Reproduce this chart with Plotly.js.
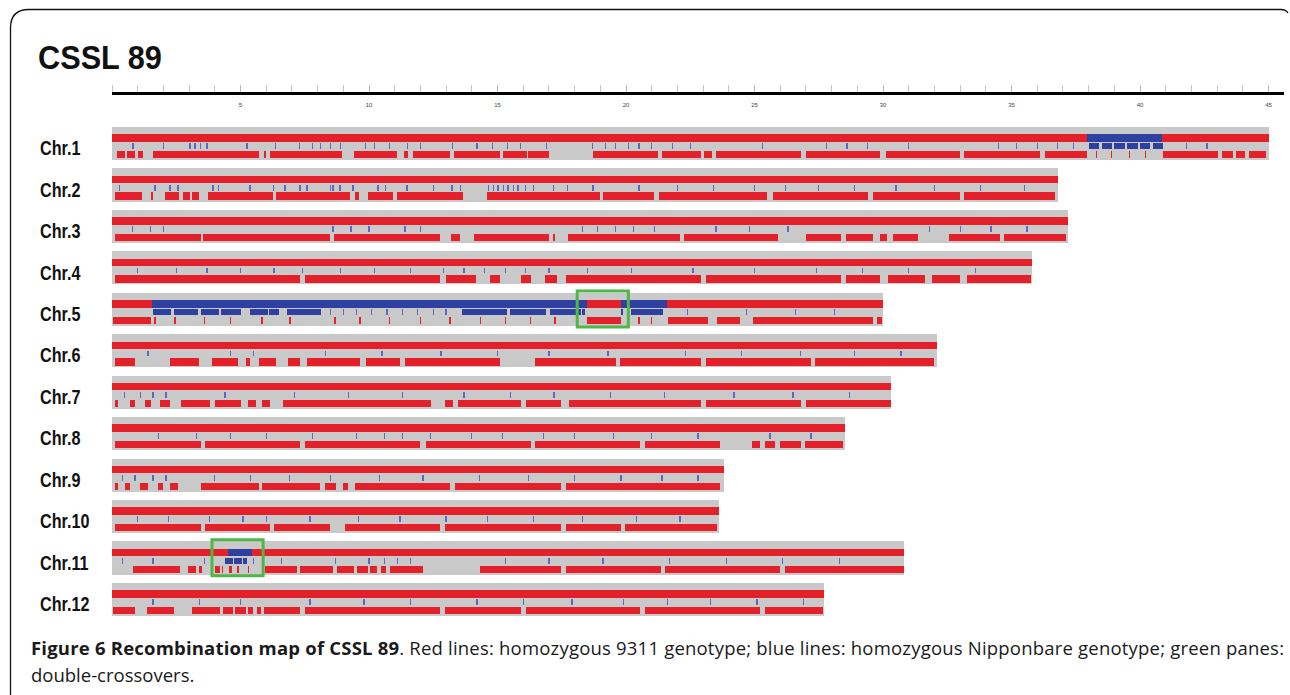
<!DOCTYPE html>
<html>
<head>
<meta charset="utf-8">
<script src="https://cdn.plot.ly/plotly-3.0.1.min.js"></script>
<style>html,body{margin:0;padding:0;background:#fff;}#chart{width:1290px;height:695px;}</style>
</head>
<body>
<div id="chart"></div>
<script>
// ---------------- DATA (Mb) ----------------
const chromNames = ['Chr.1','Chr.2','Chr.3','Chr.4','Chr.5','Chr.6','Chr.7','Chr.8','Chr.9','Chr.10','Chr.11','Chr.12'];
const chromLengths = [45.0, 36.8, 37.2, 35.8, 30.0, 32.1, 30.3, 28.5, 23.8, 23.6, 30.8, 27.7];

// genotype blocks (top bar)
const topRed = [
  [[0,37.95],[40.85,45.0]], [[0,36.8]], [[0,37.2]], [[0,35.8]],
  [[0,1.55],[18.5,19.8],[21.6,30.0]], [[0,32.1]], [[0,30.3]], [[0,28.5]],
  [[0,23.8]], [[0,23.6]], [[0,4.52],[5.45,30.8]], [[0,27.7]]
];
const topBlue = [
  [[37.95,40.85]], [], [], [], [[1.55,18.5],[19.8,21.6]], [], [], [], [], [], [[4.52,5.45]], []
];

// marker track: 9311 (red) marker blocks
const markerRed = [
  [[0.2,0.5],[0.6,0.9],[1.0,1.2],[1.6,5.7],[5.9,6.0],[6.15,8.95],[9.4,11.1],[11.35,11.5],[11.7,13.15],[13.3,15.1],[15.2,16.15],[16.2,17.0],[18.7,21.25],[21.4,22.9],[23.05,23.35],[23.5,26.8],[27.0,29.9],[30.1,33.0],[33.15,36.1],[36.3,37.95],[40.9,43.05],[43.2,43.6],[43.75,44.1],[44.25,44.9]],
  [[0.1,1.15],[1.5,1.6],[2.05,2.6],[2.75,3.05],[3.1,3.4],[3.75,6.25],[6.4,9.25],[9.45,9.6],[9.95,10.95],[11.1,13.65],[14.6,19.0],[19.1,21.1],[21.3,25.5],[25.7,29.4],[29.6,33.0],[33.15,36.7]],
  [[0.1,3.45],[3.55,8.5],[8.65,12.75],[13.2,13.55],[14.1,17.0],[17.15,17.25],[17.75,22.1],[22.25,25.9],[27.0,28.35],[28.55,29.6],[29.9,30.15],[30.4,31.35],[32.55,34.55],[34.7,37.1]],
  [[0.1,7.3],[7.5,12.75],[13.0,14.15],[14.7,15.1],[15.9,16.3],[16.85,17.3],[17.65,22.9],[23.1,28.35],[28.55,29.9],[30.2,31.65],[31.9,33.0],[33.25,35.75]],
  [[0.05,1.5],[18.5,19.8],[21.65,23.2],[23.55,24.45],[24.95,29.6],[29.75,29.95]],
  [[0.1,0.9],[2.25,3.4],[3.9,4.9],[5.2,5.35],[5.7,6.4],[6.85,7.3],[7.6,9.65],[9.9,11.2],[11.4,15.1],[16.45,19.6],[19.75,22.9],[23.1,27.2],[27.35,32.0]],
  [[0.1,0.25],[0.7,0.9],[1.3,1.5],[1.85,2.25],[2.7,3.8],[4.0,5.0],[5.3,5.6],[5.85,6.15],[6.65,12.4],[12.95,13.25],[13.45,15.9],[16.1,17.45],[17.8,22.9],[23.1,26.8],[27.0,30.3]],
  [[0.1,3.45],[3.6,7.3],[7.5,12.0],[12.2,16.3],[16.45,20.55],[20.75,23.65],[24.9,25.2],[25.4,25.8],[26.0,26.8],[26.95,28.45]],
  [[0.1,0.25],[0.5,0.7],[1.1,1.4],[1.8,2.0],[2.25,2.55],[3.45,5.7],[5.85,8.1],[8.3,8.7],[9.0,9.2],[9.45,13.15],[13.35,17.45],[17.65,23.65]],
  [[0.1,3.45],[3.6,6.15],[6.3,8.5],[9.05,12.75],[12.95,17.45],[17.65,19.8],[19.95,23.55]],
  [[0.8,2.65],[2.95,3.25],[3.4,3.5],[4.0,4.2],[4.55,4.65],[5.95,7.2],[7.3,8.6],[8.75,9.4],[9.55,9.95],[10.05,10.3],[10.45,10.65],[10.8,12.1],[14.3,17.45],[17.65,21.35],[21.5,26.0],[26.2,30.8]],
  [[0.05,0.9],[1.35,2.4],[3.1,4.2],[4.3,4.7],[4.8,5.2],[5.3,5.5],[5.65,5.8],[5.9,7.3],[7.5,12.75],[12.95,15.9],[16.1,20.55],[20.75,25.2],[25.4,27.65]]
];
// single red markers
const markerRedTicks = [
  [38.3,38.9,39.6,40.2], [], [], [], [1.67,2.45,3.6,4.6,5.84,6.93,8.68,9.65,10.8,11.99,13.15,14.33,15.3,16.27,17.24,20.5,21.0],
  [], [], [], [], [], [4.3,4.9,5.3], []
];
// marker track: Nipponbare (blue) marker blocks
const markerBlue = [
  [[38.0,38.4],[38.5,38.9],[39.0,39.4],[39.5,39.9],[40.0,40.4],[40.5,40.9]], [], [], [],
  [[1.6,2.3],[2.4,3.35],[3.45,4.15],[4.25,5.0],[5.35,6.05],[6.1,6.5],[6.8,8.15],[13.6,15.35],[15.5,16.9],[17.05,18.25],[18.3,18.4],[19.8,19.9],[20.2,21.45]],
  [], [], [], [], [], [[4.4,4.7],[4.75,5.05],[5.1,5.25]], []
];
// single blue markers
const markerBlueTicks = [
  [0.82,1.99,3.04,3.23,3.43,3.7,5.25,6.35,7.3,7.8,8.1,8.5,8.9,9.85,10.2,10.8,11.5,12.0,13.25,14.2,14.8,15.4,15.9,16.9,18.7,19.2,19.6,20.1,20.5,21.0,21.8,22.5,25.3,27.8,28.6,29.4,31.0,34.5,35.2,36.0,36.8,37.4,41.8,42.6],
  [0.3,1.67,2.26,2.57,3.93,4.13,5.37,6.27,6.73,7.32,7.59,8.49,8.6,8.87,9.38,10.35,10.63,11.48,12.5,13.23,13.55,14.64,14.83,15.02,15.22,15.41,15.61,15.8,16.08,16.39,17.17,17.71,18.72,20.5,22.0,23.4,25.0,26.2,27.5,28.9,30.5,32.0,33.8,35.5],
  [0.8,1.5,2.0,8.6,9.3,10.0,11.4,12.0,18.3,18.9,19.6,20.3,21.1,23.5,24.8,26.3,31.8,33.0,34.2,35.6],
  [1.0,2.5,3.7,5.0,6.3,7.4,8.9,10.2,11.6,12.9,13.7,14.5,15.3,16.1,17.0,18.5,20.2,22.6,25.0,27.4,29.2,31.0,33.6],
  [8.5,9.0,9.5,10.1,10.7,11.3,11.9,12.5,13.0,22.4,24.7,26.6,28.1],
  [1.4,4.6,5.5,8.3,10.5,12.8,15.0,17.0,19.3,22.3,24.5,26.8,28.9,30.7],
  [0.5,1.1,1.6,2.1,4.4,7.1,9.2,11.3,13.7,15.5,17.2,19.4,21.5,24.2,26.5,28.7],
  [1.8,3.3,4.6,6.0,7.8,9.5,10.6,11.3,12.4,14.0,15.2,16.8,18.0,19.5,21.0,22.8,25.6,27.2],
  [0.4,0.9,1.6,2.1,4.0,5.4,6.9,8.5,10.4,12.1,14.3,16.2,18.0,19.8,21.4,22.8],
  [1.0,2.2,3.8,5.1,6.0,7.7,9.6,11.2,13.0,14.6,16.4,18.3,20.4,22.1],
  [0.4,1.6,3.6,5.5,6.6,8.7,10.0,10.6,11.1,11.6,15.3,17.0,19.1,21.7,23.9,26.1,28.3],
  [1.6,3.4,5.0,7.7,9.8,11.6,14.2,16.0,17.9,19.9,21.6,23.3,25.1,26.9]
];
// double-crossover panes
const dcoChrom = [4, 10];          // index of Chr.5, Chr.11
const dcoStart = [18.1, 3.89];
const dcoEnd   = [20.09, 5.88];

const rulerTickVals = [5,10,15,20,25,30,35,40,45];
const rulerTickText = ['5','10','15','20','25','30','35','40','45'];

const titleText = 'CSSL 89';
const captionBold = 'Figure 6 Recombination map of CSSL 89';
const captionRest = '. Red lines: homozygous 9311 genotype; blue lines: homozygous Nipponbare genotype; green panes:';
const captionLine2 = 'double-crossovers.';

// ---------------- STYLE ----------------
const RED = '#e4202a', BLUE = '#2e40a0', TICKBLUE = '#5a6ac4', GRAY = '#c9c9c9', GREEN = '#4db748';
const W = 1290, H = 695, ML = 112, MR = 6, MT = 95, MB = 70;
const PW = W - ML - MR, PH = H - MT - MB;
const ROW0 = 143.5, ROWSTEP = 41.45;
const yTop = -(ROW0 - MT) / ROWSTEP, yBot = yTop + PH / ROWSTEP;
const TICKW = 0.05;

function segTrace(list, offset, width, color, tick) {
  const y = [], base = [], x = [];
  list.forEach((segs, i) => {
    segs.forEach(s => {
      if (tick) { y.push(i + offset); base.push(s - TICKW/2); x.push(TICKW); }
      else { y.push(i + offset); base.push(s[0]); x.push(s[1] - s[0]); }
    });
  });
  return {type:'bar', orientation:'h', y:y, x:x, base:base, width:width,
          marker:{color:color, line:{width:0}}, hoverinfo:'skip', showlegend:false};
}

const traces = [];
traces.push({type:'bar', orientation:'h', y:chromLengths.map((_, i) => i), x:chromLengths,
  base:chromLengths.map(() => 0), width:0.80, marker:{color:GRAY, line:{width:0}},
  hoverinfo:'skip', showlegend:false});
traces.push(segTrace(topRed, -0.133, 0.18, RED));
traces.push(segTrace(topBlue, -0.133, 0.18, BLUE));
traces.push(segTrace(markerBlueTicks, 0.065, 0.14, TICKBLUE, true));
traces.push(segTrace(markerBlue, 0.065, 0.14, BLUE));
traces.push(segTrace(markerRed, 0.27, 0.176, RED));
traces.push(segTrace(markerRedTicks, 0.27, 0.176, RED, true));

const px2x = px => (px - ML) / PW;
const px2y = py => (MT + PH - py) / PH;

const LABEL_FONT = 'Liberation Sans Narrow, Arial Narrow, Liberation Sans, Arial, sans-serif';
const annotations = chromNames.map((n, i) => ({
  xref:'paper', yref:'y', x:px2x(38), y:i + 0.1, xanchor:'left', yanchor:'middle',
  text:'<b>' + n + '</b>', showarrow:false,
  font:{family:LABEL_FONT, size:21, color:'#111'}
}));
annotations.push({xref:'paper', yref:'paper', x:px2x(36), y:px2y(57), xanchor:'left', yanchor:'middle',
  text:'<b>' + titleText + '</b>', showarrow:false,
  font:{family:LABEL_FONT, size:33, color:'#111'}});
annotations.push({xref:'paper', yref:'paper', x:px2x(29), y:px2y(647), xanchor:'left', yanchor:'middle',
  text:'<b>' + captionBold + '</b>' + captionRest, showarrow:false,
  font:{family:'Open Sans, sans-serif', size:18.5, color:'#1a1a1a'}});
annotations.push({xref:'paper', yref:'paper', x:px2x(29), y:px2y(674), xanchor:'left', yanchor:'middle',
  text:captionLine2, showarrow:false,
  font:{family:'Open Sans, sans-serif', size:18.5, color:'#1a1a1a'}});

const shapes = dcoChrom.map((c, k) => ({
  type:'rect', xref:'x', yref:'y', x0:dcoStart[k], x1:dcoEnd[k], y0:c - 0.44, y1:c + 0.43,
  line:{color:GREEN, width:3}, fillcolor:'rgba(0,0,0,0)'
}));
const fp = (x, y) => px2x(x).toFixed(5) + ',' + px2y(y).toFixed(5);
shapes.push({type:'path', xref:'paper', yref:'paper',
  path:'M' + fp(10.5, 695) + ' L' + fp(10.5, 28) + ' Q' + fp(10.5, 9.5) + ' ' + fp(29, 9.5) +
       ' L' + fp(1281, 9.5) + ' Q' + fp(1286, 9.5) + ' ' + fp(1288, 13),
  line:{color:'#111', width:1.3}});

const layout = {
  width:W, height:H, margin:{l:ML, r:MR, t:MT, b:MB, pad:0},
  paper_bgcolor:'#fff', plot_bgcolor:'#fff', barmode:'overlay', bargap:0,
  showlegend:false,
  xaxis:{range:[0, 45.6], side:'top', showline:true, linewidth:3, linecolor:'#000',
    showgrid:false, zeroline:false, ticks:'outside', ticklen:7, tickwidth:1, tickcolor:'#b8b8b8',
    tickvals:rulerTickVals, ticktext:rulerTickText, ticklabelposition:'inside', ticklabelstandoff:6,
    tickfont:{size:6, color:'#444', family:'Arial, sans-serif'},
    minor:{dtick:1, ticks:'outside', ticklen:7, tickwidth:1, tickcolor:'#c4c4c4', showgrid:false},
    fixedrange:true},
  yaxis:{range:[yBot, yTop], visible:false, fixedrange:true},
  annotations:annotations, shapes:shapes
};

Plotly.newPlot('chart', traces, layout, {displayModeBar:false, staticPlot:true}).then(gd => {
  // condensed look for the bold labels and title; justify caption line 1
  const nLab = chromNames.length;
  gd.querySelectorAll('g.annotation').forEach(g => {
    const idx = +g.getAttribute('data-index');
    const t = g.querySelector('text.annotation-text');
    if (!t) return;
    const bb = t.getBBox();
    if (idx <= nLab) {
      const s = idx < nLab ? 0.77 : 0.93;
      const L = bb.x;
      t.setAttribute('transform', 'translate(' + L + ',0) scale(' + s + ',1) translate(' + (-L) + ',0)');
    } else if (idx === nLab + 1) {
      const target = 1282 - 29;
      const w = bb.width;
      if (w < target) {
        t.setAttribute('textLength', target);
        t.setAttribute('lengthAdjust', 'spacing');
        t.setAttribute('transform', 'translate(' + ((target - w) / 2) + ',0)');
      }
    }
  });
});
</script>
</body>
</html>
